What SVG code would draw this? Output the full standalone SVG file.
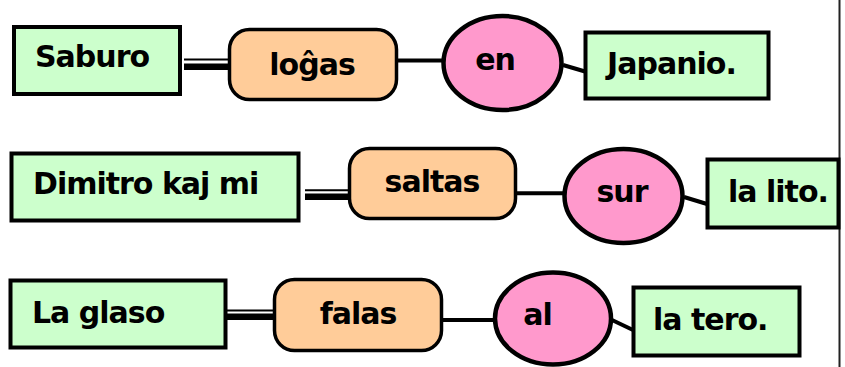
<svg xmlns="http://www.w3.org/2000/svg" width="845" height="367" viewBox="0 0 845 367">
<style>
.box{fill:#ccffcc;stroke:#000;stroke-width:4}
.verb{fill:#ffcc99;stroke:#000;stroke-width:3.5}
.prep{fill:#ff99cc;stroke:#000;stroke-width:4.5}
.t{font-family:"DejaVu Sans","Verdana",sans-serif;font-weight:bold;font-size:30px;letter-spacing:-1px;fill:#000}
.m{text-anchor:middle}
.ln{stroke:#000;stroke-width:4;fill:none}
.thin{stroke:#000;stroke-width:2;fill:none}
.thick{stroke:#000;stroke-width:6.5;fill:none}
</style>
<rect width="845" height="367" fill="#fff"/>
<line x1="839.5" y1="0" x2="839.5" y2="367" stroke="#222" stroke-width="2"/>
<g id="connectors">
<line class="thin" x1="184" y1="59.5" x2="232" y2="59.5"/>
<line class="thick" x1="184" y1="66.7" x2="232" y2="66.7"/>
<line class="ln" x1="398" y1="60.5" x2="443" y2="60.5"/>
<line class="ln" x1="563" y1="65" x2="585" y2="71.5"/>
<line class="thin" x1="305" y1="190.3" x2="352" y2="190.3"/>
<line class="thick" x1="305" y1="196.7" x2="352" y2="196.7"/>
<line class="ln" x1="517" y1="193.3" x2="564" y2="193.3"/>
<line class="ln" x1="684" y1="197" x2="707" y2="204"/>
<line class="thin" x1="227" y1="310.5" x2="274" y2="310.5"/>
<line class="thick" x1="227" y1="316.7" x2="274" y2="316.7"/>
<line class="ln" x1="443" y1="320" x2="495" y2="320"/>
<line class="ln" x1="612" y1="320" x2="633" y2="330"/>
</g>
<g id="n-saburo"><rect class="box" x="14" y="27" width="166" height="67"/><text class="t" x="35" y="67">Saburo</text></g>
<g id="n-logas"><rect class="verb" x="229.5" y="29.5" width="167" height="70" rx="20"/><text class="t m" x="312" y="75">loĝas</text></g>
<g id="n-en"><ellipse class="prep" cx="502.5" cy="63" rx="59" ry="47"/><text class="t m" x="495" y="70">en</text></g>
<g id="n-japanio"><rect class="box" x="585.5" y="32.5" width="183" height="66"/><text class="t" x="607" y="74">Japanio.</text></g>
<g id="n-dimitro"><rect class="box" x="11.5" y="153.5" width="287" height="67"/><text class="t" x="33" y="194">Dimitro kaj mi</text></g>
<g id="n-saltas"><rect class="verb" x="349.5" y="148.5" width="166" height="70" rx="20"/><text class="t m" x="432" y="192">saltas</text></g>
<g id="n-sur"><ellipse class="prep" cx="623.5" cy="196" rx="59" ry="47"/><text class="t m" x="622" y="202">sur</text></g>
<g id="n-lalito"><rect class="box" x="707.5" y="159.5" width="131" height="68"/><text class="t" x="728" y="202">la lito.</text></g>
<g id="n-laglaso"><rect class="box" x="10.5" y="280.5" width="215" height="67"/><text class="t" x="32" y="323">La glaso</text></g>
<g id="n-falas"><rect class="verb" x="274.5" y="279.5" width="167" height="71" rx="20"/><text class="t m" x="358" y="324">falas</text></g>
<g id="n-al"><ellipse class="prep" cx="553" cy="318.5" rx="58" ry="46"/><text class="t m" x="537.5" y="325">al</text></g>
<g id="n-latero"><rect class="box" x="633.5" y="287.5" width="166" height="68"/><text class="t" x="653" y="330">la tero.</text></g>
</svg>
